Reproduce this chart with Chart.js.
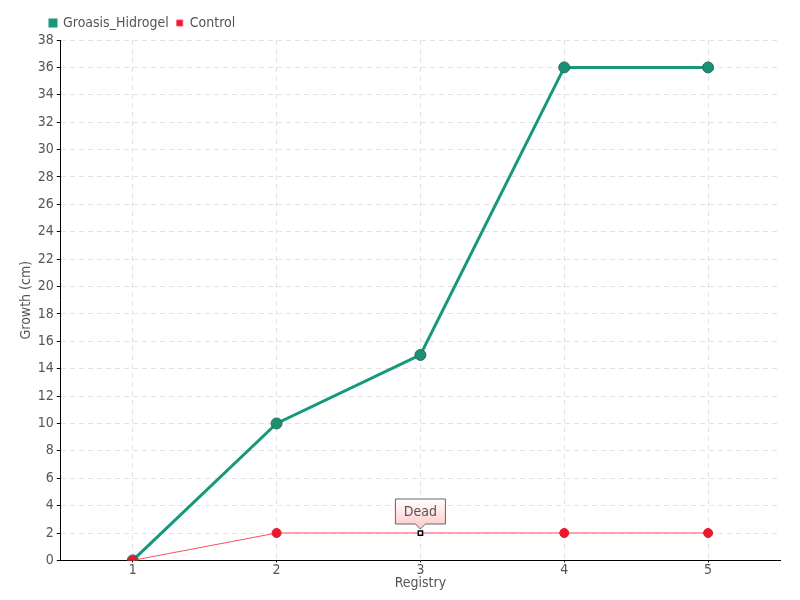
<!DOCTYPE html>
<html>
<head>
<meta charset="utf-8">
<script src="https://cdn.jsdelivr.net/npm/chart.js@4/dist/chart.umd.min.js"></script>
<style>
  body { margin: 0; background: #fff; }
  #wrap { width: 800px; height: 600px; }
</style>
</head>
<body>
<div id="wrap"><canvas id="growthChart"></canvas></div>
<script>
// ===== Data =====
const registries = ["1", "2", "3", "4", "5"];
const groasisValues = [0, 10, 15, 36, 36];
const controlValues = [0, 2, 2, 2, 2];
const deadIndex = 2; // control plant died at registry 3
const deadLabel = "Dead";

const FONT = "'Liberation Sans Narrow', 'DejaVu Sans Condensed', sans-serif";
Chart.defaults.font.family = FONT;
Chart.defaults.color = "#555";

// ===== "Dead" callout =====
const deadCallout = {
  id: "deadCallout",
  afterDatasetsDraw(chart) {
    const meta = chart.getDatasetMeta(1);
    const pt = meta.data[deadIndex];
    if (!pt) return;
    const ctx = chart.ctx;
    const w = 50, h = 25;
    const x = pt.x - w / 2, y = pt.y - 34;
    ctx.save();
    const g = ctx.createLinearGradient(0, y, 0, y + h);
    g.addColorStop(0, "#ffffff");
    g.addColorStop(1, "#ffd0d0");
    ctx.beginPath();
    ctx.moveTo(x, y);
    ctx.lineTo(x + w, y);
    ctx.lineTo(x + w, y + h);
    ctx.lineTo(pt.x + 5, y + h);
    ctx.lineTo(pt.x, y + h + 5);
    ctx.lineTo(pt.x - 5, y + h);
    ctx.lineTo(x, y + h);
    ctx.closePath();
    ctx.fillStyle = g;
    ctx.fill();
    ctx.strokeStyle = "#666";
    ctx.lineWidth = 1;
    ctx.stroke();
    ctx.fillStyle = "#555";
    ctx.font = "14px " + FONT;
    ctx.textAlign = "center";
    ctx.textBaseline = "middle";
    ctx.fillText(deadLabel, pt.x, y + h / 2 + 1);
    ctx.restore();
  }
};

// legend sits a little right of the canvas edge, over the y axis labels
const legendShift = {
  id: "legendShift",
  afterLayout(chart) {
    chart.legend.left += 40;
    chart.legend.right += 40;
  }
};

// ===== Chart =====
const ctx = document.getElementById("growthChart").getContext("2d");
new Chart(ctx, {
  type: "line",
  data: {
    labels: registries,
    datasets: [
      {
        label: "Groasis_Hidrogel",
        data: groasisValues,
        borderColor: "#17977c",
        backgroundColor: "#17977c",
        borderWidth: 3,
        pointRadius: 5.5,
        pointBackgroundColor: "#1b8f72",
        pointBorderColor: "#2d6b5b",
        pointBorderWidth: 1,
        tension: 0,
        order: 1
      },
      {
        label: "Control",
        data: controlValues,
        borderColor: "#ff4a62",
        backgroundColor: "#e8192c",
        borderWidth: 1,
        pointRadius: controlValues.map((v, i) => i === deadIndex ? 3 : 4.5),
        pointStyle: controlValues.map((v, i) => i === deadIndex ? "rect" : "circle"),
        pointBackgroundColor: controlValues.map((v, i) => i === deadIndex ? "#fff" : "#e8192c"),
        pointBorderColor: controlValues.map((v, i) => i === deadIndex ? "#000" : "#e8192c"),
        pointBorderWidth: controlValues.map((v, i) => i === deadIndex ? 1.5 : 1),
        tension: 0,
        order: 0
      }
    ]
  },
  options: {
    responsive: true,
    maintainAspectRatio: false,
    animation: false,
    layout: { padding: { left: 2, right: 20, top: 8, bottom: 8 } },
    plugins: {
      legend: {
        display: true,
        align: "start",
        labels: {
          boxWidth: 6,
          boxHeight: 6,
          padding: 8,
          color: "#555",
          font: { size: 14 },
          sort: (a, b) => a.datasetIndex - b.datasetIndex
        }
      },
      tooltip: { enabled: false }
    },
    scales: {
      x: {
        offset: true,
        grid: {
          color: "#e2e2e2",
          tickColor: "#000",
          tickLength: 2,
          offset: false
        },
        border: { color: "#000", width: 1, dash: [5, 4] },
        ticks: { color: "#555", font: { size: 14 }, padding: 0 },
        title: {
          display: true,
          text: "Registry",
          color: "#555",
          font: { size: 14 },
          padding: { top: -4, bottom: 0 }
        }
      },
      y: {
        min: 0,
        max: 38,
        grid: {
          color: "#e2e2e2",
          tickColor: "#000",
          tickLength: 4
        },
        border: { color: "#000", width: 1, dash: [5, 4] },
        ticks: { stepSize: 2, color: "#555", font: { size: 14 }, padding: 3 },
        title: {
          display: true,
          text: "Growth (cm)",
          color: "#555",
          font: { size: 14 },
          padding: { top: 16, bottom: 0 }
        }
      }
    }
  },
  plugins: [deadCallout, legendShift]
});
</script>
</body>
</html>
